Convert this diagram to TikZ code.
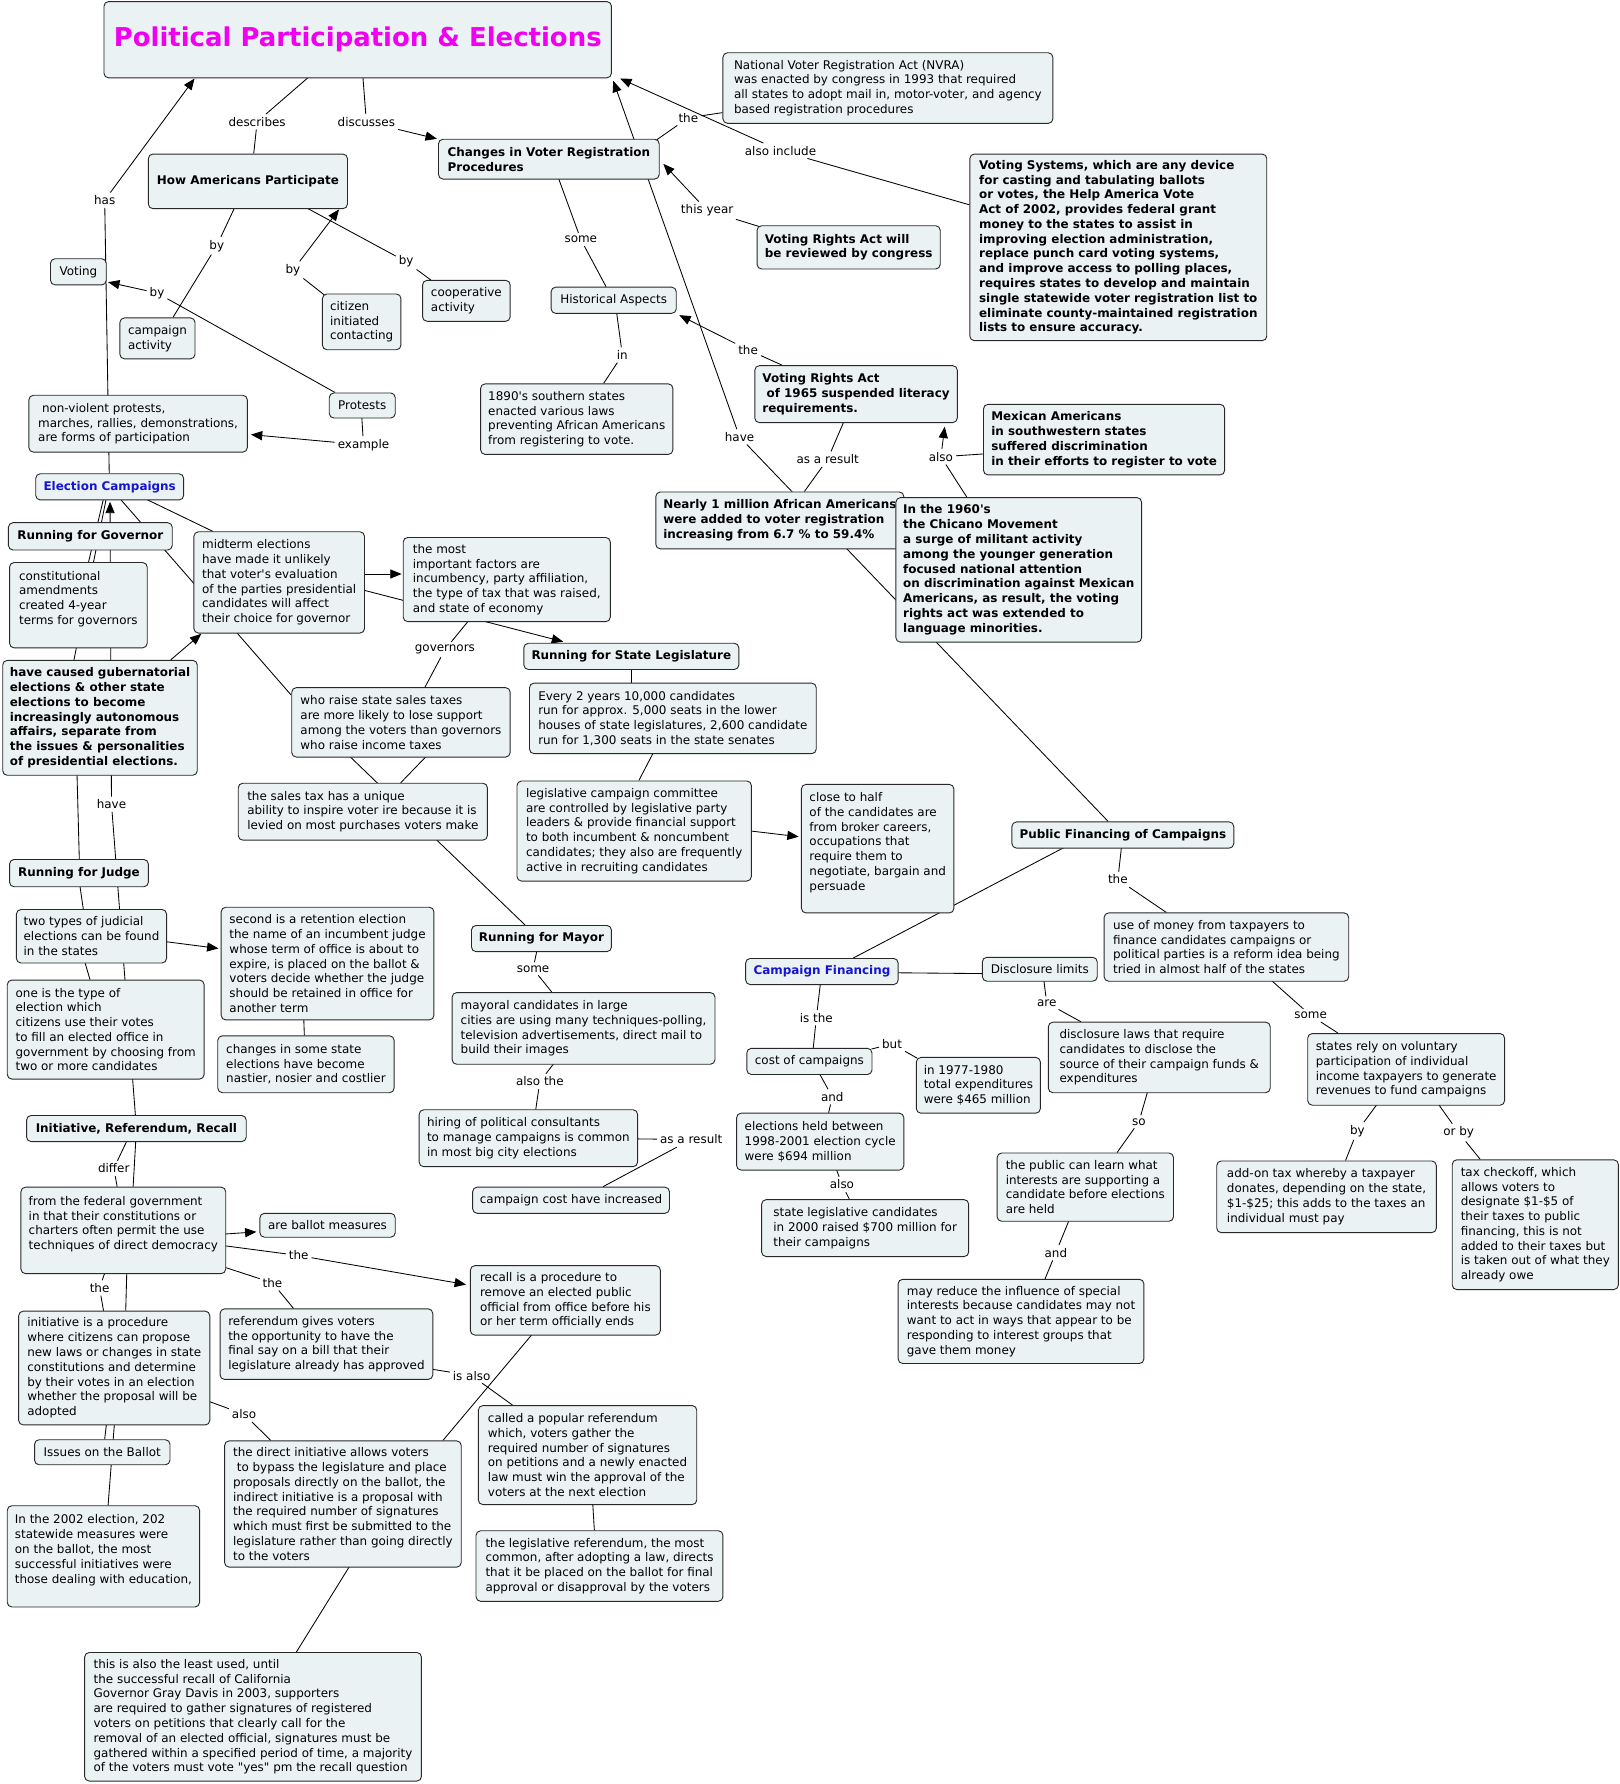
\documentclass[tikz,border=0pt]{standalone}
\usepackage{fontspec}
\setmainfont{DejaVu Sans}[Ligatures=TeXOff]
\usepackage{tikz}
\usetikzlibrary{arrows.meta, backgrounds}
\definecolor{cmFill}{RGB}{235,242,243}
\definecolor{cmEdge}{RGB}{40,40,40}
\definecolor{cmTitle}{RGB}{240,0,240}
\definecolor{cmBlue}{RGB}{20,20,210}
\newcommand{\cmapfont}{\fontsize{10.5}{13}\selectfont}
\newcommand{\titlefont}{\fontsize{22.8}{27}\selectfont\bfseries}

\begin{document}
\begin{tikzpicture}[x=1pt, y=-1pt,
    cpt/.style={draw=cmEdge, fill=cmFill, rounded corners=4pt, line width=0.8pt, anchor=north west,
      align=left, inner xsep=6pt, inner ysep=4pt, font=\cmapfont},
    bcpt/.style={cpt, font=\cmapfont\bfseries},
    sz/.style 2 args={minimum width=#1pt, minimum height=#2pt},
    lp/.style={inner sep=2.5pt, font=\cmapfont},
    ln/.style={line width=0.75pt, draw=black},
    arr/.style={ln, -{Triangle[length=10pt, width=8pt]}}
  ]
  \useasboundingbox (0,0) rectangle (1423,1568);
  \node[bcpt, sz={446}{67}, font=\titlefont, text=cmTitle] (title) at (91,1) {Political Participation \& Elections};
  \node[bcpt, sz={175}{48}] (hap) at (130,135) {How Americans Participate};
  \node[bcpt, sz={194}{35}] (cvr) at (385,122) {Changes in Voter Registration\\Procedures};
  \node[cpt, sz={290}{62}] (nvra) at (635,46) {National Voter Registration Act (NVRA)\\was enacted by congress in 1993 that required\\all states to adopt mail in, motor-voter, and agency\\based registration procedures};
  \node[bcpt, sz={261}{164}] (votsys) at (852,135) {Voting Systems, which are any device\\for casting and tabulating ballots\\or votes, the Help America Vote\\Act of 2002, provides federal grant\\money to the states to assist in\\improving election administration,\\replace punch card voting systems,\\and improve access to polling places,\\requires states to develop and maintain\\single statewide voter registration list to\\eliminate county-maintained registration\\lists to ensure accuracy.};
  \node[bcpt, sz={161}{38}] (vrawill) at (665,198) {Voting Rights Act will\\be reviewed by congress};
  \node[cpt, sz={110}{23}] (hist) at (484,252) {Historical Aspects};
  \node[cpt, sz={169}{62}] (s1890) at (422,337) {1890's southern states\\enacted various laws\\preventing African Americans\\from registering to vote.};
  \node[bcpt, sz={178}{50}] (vra65) at (663,321) {Voting Rights Act\\\ of 1965 suspended literacy\\requirements.};
  \node[bcpt, sz={212}{62}] (mexam) at (864,355) {Mexican Americans\\in southwestern states\\suffered discrimination\\in their efforts to register to vote};
  \node[bcpt, sz={218}{50}] (nearly) at (576,432) {Nearly 1 million African Americans\\were added to voter registration\\increasing from 6.7 \% to 59.4\%};
  \node[bcpt, sz={216}{127}] (chicano) at (787,437) {In the 1960's\\the Chicano Movement\\a surge of militant activity\\among the younger generation\\focused national attention\\on discrimination against Mexican\\Americans, as result, the voting\\rights act was extended to\\language minorities.};
  \node[cpt, sz={49}{23}] (voting) at (44,227) {Voting};
  \node[cpt, sz={66}{36}] (campact) at (105,279) {campaign\\activity};
  \node[cpt, sz={69}{49}] (citizen) at (283,258) {citizen\\initiated\\contacting};
  \node[cpt, sz={77}{36}] (coop) at (371,246) {cooperative\\activity};
  \node[cpt, sz={58}{22}] (protests) at (289,345) {Protests};
  \node[cpt, sz={192}{50}] (nonviol) at (25,347) {\ non-violent protests,\\marches, rallies, demonstrations,\\are forms of participation};
  \node[bcpt, sz={130}{23}, text=cmBlue] (ec) at (31,416) {Election Campaigns};
  \node[bcpt, sz={144}{24}] (rfg) at (7,459) {Running for Governor};
  \node[cpt, sz={121}{75}] (constit) at (8,494) {constitutional\\amendments\\created 4-year\\terms for governors\\~};
  \node[cpt, sz={150}{89}] (midterm) at (170,467) {midterm elections\\have made it unlikely\\that voter's evaluation\\of the parties presidential\\candidates will affect\\their choice for governor};
  \node[cpt, sz={182}{74}] (most) at (354,472) {the most\\important factors are\\incumbency, party affiliation,\\the type of tax that was raised,\\and state of economy};
  \node[bcpt, sz={171}{101}] (hcaused) at (2,580) {have caused gubernatorial\\elections \& other state\\elections to become\\increasingly autonomous\\affairs, separate from\\the issues \& personalities\\of presidential elections.};
  \node[bcpt, sz={189}{23}] (rfsl) at (460,565) {Running for State Legislature};
  \node[cpt, sz={252}{62}] (every) at (465,600) {Every 2 years 10,000 candidates\\run for approx. 5,000 seats in the lower\\houses of state legislatures, 2,600 candidate\\run for 1,300 seats in the state senates};
  \node[cpt, sz={192}{61}] (whoraise) at (256,604) {who raise state sales taxes\\are more likely to lose support\\among the voters than governors\\who raise income taxes};
  \node[cpt, sz={219}{50}] (salestax) at (209,688) {the sales tax has a unique\\ability to inspire voter ire because it is\\levied on most purchases voters make};
  \node[cpt, sz={206}{88}] (legcomm) at (454,686) {legislative campaign committee\\are controlled by legislative party\\leaders \& provide financial support\\to both incumbent \& noncumbent\\candidates; they also are frequently\\active in recruiting candidates};
  \node[cpt, sz={134}{113}] (closehalf) at (704,689) {close to half\\of the candidates are\\from broker careers,\\occupations that\\require them to\\negotiate, bargain and\\persuade\\~};
  \node[bcpt, sz={122}{24}] (rfj) at (8,755) {Running for Judge};
  \node[cpt, sz={132}{47}] (twotypes) at (14,799) {two types of judicial\\elections can be found\\in the states};
  \node[cpt, sz={187}{99}] (second) at (194,797) {second is a retention election\\the name of an incumbent judge\\whose term of office is about to\\expire, is placed on the ballot \&\\voters decide whether the judge\\should be retained in office for\\another term};
  \node[cpt, sz={173}{87}] (oneis) at (6,861) {one is the type of\\election which\\citizens use their votes\\to fill an elected office in\\government by choosing from\\two or more candidates};
  \node[cpt, sz={155}{50}] (changes) at (191,910) {changes in some state\\elections have become\\nastier, nosier and costlier};
  \node[bcpt, sz={123}{23}] (rfm) at (414,813) {Running for Mayor};
  \node[cpt, sz={231}{63}] (mayoral) at (397,872) {mayoral candidates in large\\cities are using many techniques-polling,\\television advertisements, direct mail to\\build their images};
  \node[cpt, sz={192}{50}] (hiring) at (368,975) {hiring of political consultants\\to manage campaigns is common\\in most big city elections};
  \node[cpt, sz={173}{23}] (costinc) at (415,1043) {campaign cost have increased};
  \node[bcpt, sz={193}{23}] (irr) at (23,980) {Initiative, Referendum, Recall};
  \node[cpt, sz={180}{76}] (federal) at (18,1043) {from the federal government\\in that their constitutions or\\charters often permit the use\\techniques of direct democracy\\~};
  \node[cpt, sz={119}{21}] (ballotm) at (228,1066) {are ballot measures};
  \node[cpt, sz={167}{61}] (recall) at (413,1112) {recall is a procedure to\\remove an elected public\\official from office before his\\or her term officially ends};
  \node[cpt, sz={168}{100}] (initiative) at (16,1152) {initiative is a procedure\\where citizens can propose\\new laws or changes in state\\constitutions and determine\\by their votes in an election\\whether the proposal will be\\adopted};
  \node[cpt, sz={187}{62}] (referendum) at (193,1150) {referendum gives voters\\the opportunity to have the\\final say on a bill that their\\legislature already has approved};
  \node[cpt, sz={119}{22}] (issues) at (30,1265) {Issues on the Ballot};
  \node[cpt, sz={169}{89}] (in2002) at (6,1323) {In the 2002 election, 202\\statewide measures were\\on the ballot, the most\\successful initiatives were\\those dealing with education,\\~};
  \node[cpt, sz={208}{111}] (direct) at (197,1266) {the direct initiative allows voters\\\ to bypass the legislature and place\\proposals directly on the ballot, the\\indirect initiative is a proposal with\\the required number of signatures\\which must first be submitted to the\\legislature rather than going directly\\to the voters};
  \node[cpt, sz={192}{87}] (popular) at (420,1235) {called a popular referendum\\which, voters gather the\\required number of signatures\\on petitions and a newly enacted\\law must win the approval of the\\voters at the next election};
  \node[cpt, sz={217}{62}] (legref) at (418,1345) {the legislative referendum, the most\\common, after adopting a law, directs\\that it be placed on the ballot for final\\approval or disapproval by the voters};
  \node[cpt, sz={296}{113}] (leastused) at (74,1452) {this is also the least used, until\\the successful recall of California\\Governor Gray Davis in 2003, supporters\\are required to gather signatures of registered\\voters on petitions that clearly call for the\\removal of an elected official, signatures must be\\gathered within a specified period of time, a majority\\of the voters must vote "yes" pm the recall question};
  \node[bcpt, sz={195}{23}] (pfc) at (889,722) {Public Financing of Campaigns};
  \node[bcpt, sz={134}{23}, text=cmBlue] (cf) at (655,842) {Campaign Financing};
  \node[cpt, sz={101}{21}] (disclim) at (863,841) {Disclosure limits};
  \node[cpt, sz={215}{60}] (usemoney) at (970,802) {use of money from taxpayers to\\finance candidates campaigns or\\political parties is a reform idea being\\tried in almost half of the states};
  \node[cpt, sz={110}{23}] (costcamp) at (656,921) {cost of campaigns};
  \node[cpt, sz={109}{49}] (in1977) at (805,929) {in 1977-1980\\total expenditures\\were \$465 million};
  \node[cpt, sz={147}{50}] (held) at (647,978) {elections held between\\1998-2001 election cycle\\were \$694 million};
  \node[cpt, sz={182}{50}] (statelegc) at (669,1054) {state legislative candidates\\in 2000 raised \$700 million for\\their campaigns};
  \node[cpt, sz={195}{62}] (disclaws) at (921,898) {disclosure laws that require\\candidates to disclose the\\source of their campaign funds \&\\expenditures};
  \node[cpt, sz={173}{63}] (voluntary) at (1149,908) {states rely on voluntary\\participation of individual\\income taxpayers to generate\\revenues to fund campaigns};
  \node[cpt, sz={155}{60}] (publearn) at (876,1013) {the public can learn what\\interests are supporting a\\candidate before elections\\are held};
  \node[cpt, sz={193}{63}] (addon) at (1069,1020) {add-on tax whereby a taxpayer\\donates, depending on the state,\\\$1-\$25; this adds to the taxes an\\individual must pay};
  \node[cpt, sz={146}{114}] (checkoff) at (1276,1019) {tax checkoff, which\\allows voters to\\designate \$1-\$5 of\\their taxes to public\\financing, this is not\\added to their taxes but\\is taken out of what they\\already owe};
  \node[cpt, sz={216}{74}] (mayreduce) at (789,1124) {may reduce the influence of special\\interests because candidates may not\\want to act in ways that appear to be\\responding to interest groups that\\gave them money};

  \node[lp] (describes) at (226,107) {describes};
  \node[lp] (discusses) at (322,107) {discusses};
  \node[lp] (has) at (92,176) {has};
  \node[lp] (by1) at (190.5,216) {by};
  \node[lp] (by2) at (357,230) {by};
  \node[lp] (by3) at (257.5,237.5) {by};
  \node[lp] (by4) at (138,257.5) {by};
  \node[lp] (example) at (319.5,391) {example};
  \node[lp] (the1) at (605,103.5) {the};
  \node[lp] (alsoinc) at (686,132.5) {also include};
  \node[lp] (thisyr) at (621.5,185) {this year};
  \node[lp] (some1) at (510.5,210.5) {some};
  \node[lp] (in1) at (547,312) {in};
  \node[lp] (the2) at (657.5,307.5) {the};
  \node[lp] (have1) at (650,384) {have};
  \node[lp] (asres1) at (727.5,403.5) {as a result};
  \node[lp] (also1) at (827,401.5) {also};
  \node[lp] (have2) at (98,707) {have};
  \node[lp] (govs) at (391,571) {governors};
  \node[lp] (some2) at (468.5,851.5) {some};
  \node[lp] (alsothe) at (474.5,950.5) {also the};
  \node[lp] (asres2) at (607.5,1001.5) {as a result};
  \node[lp] (differ) at (100,1027) {differ};
  \node[lp] (the3) at (262.5,1103.5) {the};
  \node[lp] (the4) at (87.5,1132) {the};
  \node[lp] (the5) at (239.5,1127.5) {the};
  \node[lp] (isalso) at (414.5,1209) {is also};
  \node[lp] (also2) at (214.5,1243) {also};
  \node[lp] (the6) at (982.5,773) {the};
  \node[lp] (isthe) at (717.5,894.5) {is the};
  \node[lp] (but) at (784,917.5) {but};
  \node[lp] (and1) at (731.5,964) {and};
  \node[lp] (also3) at (740,1041) {also};
  \node[lp] (are) at (920,881.5) {are};
  \node[lp] (so) at (1001,986) {so};
  \node[lp] (and2) at (928,1101) {and};
  \node[lp] (some3) at (1152,892.5) {some};
  \node[lp] (by5) at (1193,994) {by};
  \node[lp] (orby) at (1282,995.5) {or by};

  \begin{scope}[on background layer]
    \fill[white] (0,0) rectangle (1423,1568);
    \draw[ln] ([shift={(180,67)}]title.north west) -- (describes) -- ([shift={(93,0)}]hap.north west);
    \draw[arr] ([shift={(228,67)}]title.north west) -- (discusses) -- ([shift={(-1,0)}]cvr.north west);
    \draw[arr] ([shift={(65,0)}]ec.north west) -- (has) -- ([shift={(80,68)}]title.north west);
    \draw[ln] ([shift={(76,48)}]hap.north west) -- (by1) -- ([shift={(47,0)}]campact.north west);
    \draw[ln] ([shift={(140,48)}]hap.north west) -- (by2) -- ([shift={(7.5,0)}]coop.north west);
    \draw[arr] ([shift={(3,2)}]citizen.north west) -- (by3) -- ([shift={(168,49)}]hap.north west);
    \draw[arr] ([shift={(5.5,0)}]protests.north west) -- (by4) -- ([shift={(51,21)}]voting.north west);
    \draw[arr] ([shift={(29,22)}]protests.north west) -- (example) -- ([shift={(195.5,35)}]nonviol.north west);
    \draw[ln] ([shift={(192,1)}]cvr.north west) -- (the1) -- ([shift={(0,53)}]nvra.north west);
    \draw[arr] ([shift={(0,45)}]votsys.north west) -- (alsoinc) -- ([shift={(454,68)}]title.north west);
    \draw[arr] ([shift={(2,1)}]vrawill.north west) -- (thisyr) -- ([shift={(198,22)}]cvr.north west);
    \draw[ln] ([shift={(106,35)}]cvr.north west) -- (some1) -- ([shift={(48.7,0)}]hist.north west);
    \draw[ln] ([shift={(58,23)}]hist.north west) -- (in1) -- ([shift={(108.5,0)}]s1890.north west);
    \draw[arr] ([shift={(24.5,0)}]vra65.north west) -- (the2) -- ([shift={(113,25)}]hist.north west);
    \draw[arr] ([shift={(85,0)}]pfc.north west) -- (have1) -- ([shift={(448,70)}]title.north west);
    \draw[ln] ([shift={(78.5,50)}]vra65.north west) -- (asres1) -- ([shift={(131,0)}]nearly.north west);
    \draw[arr] ([shift={(62.8,0)}]chicano.north west) -- (also1) -- ([shift={(167.3,54)}]vra65.north west);
    \draw[ln] ([shift={(0,44)}]mexam.north west) -- (also1);
    \draw[arr] ([shift={(96,0)}]irr.north west) -- (have2) -- ([shift={(65.7,25)}]ec.north west);
    \draw[ln] ([shift={(59.8,23)}]ec.north west) -- (constit.center);
    \draw[ln] ([shift={(62.2,23)}]ec.north west) -- ([shift={(55,40)}]hcaused.north west);
    \draw[ln] ([shift={(65.7,101)}]hcaused.north west) -- ([shift={(61.7,0)}]rfj.north west);
    \draw[ln] ([shift={(62.3,24)}]rfj.north west) -- ([shift={(59.2,0)}]twotypes.north west);
    \draw[ln] ([shift={(60.7,47)}]twotypes.north west) -- ([shift={(73.1,0)}]oneis.north west);
    \draw[ln] ([shift={(98,23)}]ec.north west) -- ([shift={(17,0)}]midterm.north west);
    \draw[ln] (ec.center) -- ([shift={(0,7)}]whoraise.north west);
    \draw[ln] ([shift={(57.5,74)}]most.north west) -- (govs) -- ([shift={(117.5,0)}]whoraise.north west);
    \draw[ln] ([shift={(118.4,61)}]whoraise.north west) -- ([shift={(143.2,0)}]salestax.north west);
    \draw[ln] ([shift={(51.6,61)}]whoraise.north west) -- ([shift={(47.5,0)}]rfm.north west);
    \draw[arr] ([shift={(150,37.5)}]midterm.north west) -- ([shift={(-1,32.5)}]most.north west);
    \draw[arr] ([shift={(150.8,52)}]midterm.north west) -- ([shift={(35,-1)}]rfsl.north west);
    \draw[arr] ([shift={(148,0)}]hcaused.north west) -- ([shift={(7,90)}]midterm.north west);
    \draw[ln] ([shift={(95,23)}]rfsl.north west) -- ([shift={(90,0)}]every.north west);
    \draw[ln] ([shift={(109,62)}]every.north west) -- ([shift={(107.5,0)}]legcomm.north west);
    \draw[arr] ([shift={(206,44.4)}]legcomm.north west) -- ([shift={(-2,46.4)}]closehalf.north west);
    \draw[ln] ([shift={(95,0)}]cf.north west) -- ([shift={(46,23)}]pfc.north west);
    \draw[ln] ([shift={(96.6,23)}]pfc.north west) -- (the6) -- ([shift={(55.2,0)}]usemoney.north west);
    \draw[ln] ([shift={(134,13)}]cf.north west) -- ([shift={(0,14.7)}]disclim.north west);
    \draw[ln] ([shift={(54.5,21)}]disclim.north west) -- (are) -- ([shift={(29,0)}]disclaws.north west);
    \draw[ln] ([shift={(66,23)}]cf.north west) -- (isthe) -- ([shift={(58.8,0)}]costcamp.north west);
    \draw[ln] ([shift={(110,1)}]costcamp.north west) -- (but) -- ([shift={(1,1)}]in1977.north west);
    \draw[ln] ([shift={(64.4,23)}]costcamp.north west) -- (and1) -- ([shift={(81.3,0)}]held.north west);
    \draw[ln] ([shift={(88.2,50)}]held.north west) -- (also3) -- ([shift={(77.5,0)}]statelegc.north west);
    \draw[ln] ([shift={(87.5,62)}]disclaws.north west) -- (so) -- ([shift={(105.8,0)}]publearn.north west);
    \draw[ln] ([shift={(63.4,60)}]publearn.north west) -- (and2) -- ([shift={(129.5,0)}]mayreduce.north west);
    \draw[ln] ([shift={(147.8,60)}]usemoney.north west) -- (some3) -- ([shift={(27,0)}]voluntary.north west);
    \draw[ln] ([shift={(61,63)}]voluntary.north west) -- (by5) -- ([shift={(113.6,0)}]addon.north west);
    \draw[ln] ([shift={(115.6,63)}]voluntary.north west) -- (orby) -- ([shift={(25,0)}]checkoff.north west);
    \draw[arr] ([shift={(132,28.7)}]twotypes.north west) -- ([shift={(-2,36.6)}]second.north west);
    \draw[ln] ([shift={(73,99)}]second.north west) -- ([shift={(76.5,0)}]changes.north west);
    \draw[ln] ([shift={(57.8,23)}]rfm.north west) -- (some2) -- ([shift={(88,0)}]mayoral.north west);
    \draw[ln] ([shift={(89.6,63)}]mayoral.north west) -- (alsothe) -- ([shift={(102.9,0)}]hiring.north west);
    \draw[ln] ([shift={(192,26)}]hiring.north west) -- (asres2) -- ([shift={(115,0)}]costinc.north west);
    \draw[ln] ([shift={(88.4,23)}]irr.north west) -- (differ) -- ([shift={(85,0)}]federal.north west);
    \draw[ln] ([shift={(96.3,23)}]irr.north west) -- ([shift={(99,0)}]federal.north west);
    \draw[arr] ([shift={(180,41.6)}]federal.north west) -- ([shift={(-2.6,16.7)}]ballotm.north west);
    \draw[arr] ([shift={(180,52)}]federal.north west) -- (the3) -- ([shift={(-3.4,17)}]recall.north west);
    \draw[ln] ([shift={(180,71)}]federal.north west) -- (the5) -- ([shift={(65,0)}]referendum.north west);
    \draw[ln] ([shift={(74,76)}]federal.north west) -- (the4) -- ([shift={(75,0)}]initiative.north west);
    \draw[ln] ([shift={(93.4,76)}]federal.north west) -- ([shift={(94.5,0)}]initiative.north west);
    \draw[ln] ([shift={(77.5,100)}]initiative.north west) -- ([shift={(62,0)}]issues.north west);
    \draw[ln] ([shift={(84.5,100)}]initiative.north west) -- ([shift={(89,0)}]in2002.north west);
    \draw[ln] ([shift={(167,79.5)}]initiative.north west) -- (also2) -- ([shift={(41,0)}]direct.north west);
    \draw[ln] ([shift={(187,53.5)}]referendum.north west) -- (isalso) -- ([shift={(30.5,0)}]popular.north west);
    \draw[ln] ([shift={(192.3,0)}]direct.north west) -- ([shift={(54.5,61)}]recall.north west);
    \draw[ln] ([shift={(101,87)}]popular.north west) -- ([shift={(104.4,0)}]legref.north west);
    \draw[ln] ([shift={(110,111)}]direct.north west) -- ([shift={(186.5,0)}]leastused.north west);
  \end{scope}
\end{tikzpicture}
\end{document}
